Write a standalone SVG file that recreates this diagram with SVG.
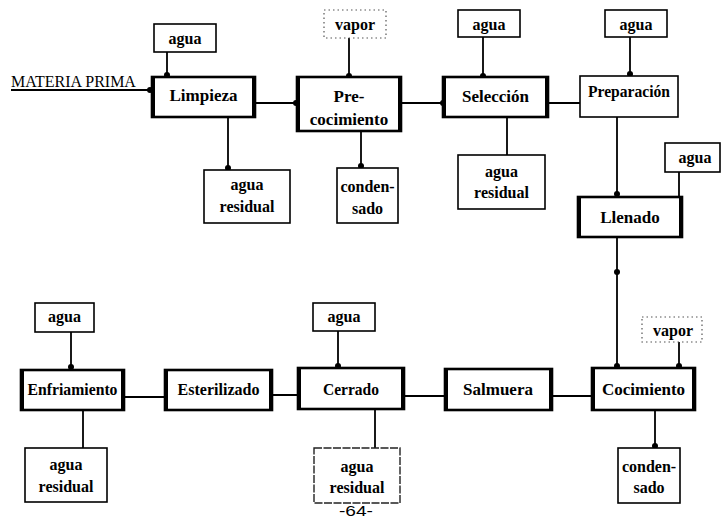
<svg xmlns="http://www.w3.org/2000/svg" width="721" height="519" viewBox="0 0 721 519">
<style>
  text{font-family:"Liberation Serif","Times New Roman",serif;fill:#000;text-anchor:middle}
  .pt{font-size:17px;font-weight:bold}
  .at{font-size:16px;font-weight:bold}
  .aux{fill:#fff;stroke:#000;stroke-width:1.6}
  .dot{fill:#fff;stroke:#555;stroke-width:1.2;stroke-dasharray:1.5 3}
  .dash{fill:#fff;stroke:#222;stroke-width:1.4;stroke-dasharray:8 1.5}
  .proc{fill:#fff;stroke:#000;stroke-width:2.6}
  .side{stroke:#000;stroke-width:4}
  .plain{fill:#fff;stroke:#000;stroke-width:1.6}
  .c{fill:none;stroke:#000;stroke-width:1.8}
  .e{marker-end:url(#d)}
</style>
<defs>
  <marker id="d" viewBox="0 0 6 6" refX="3" refY="3" markerWidth="6" markerHeight="6" markerUnits="userSpaceOnUse">
    <circle cx="3" cy="3" r="3" fill="#000"/>
  </marker>
</defs>
<rect width="721" height="519" fill="#fff"/>

<g id="connectors">
  <path class="c e" d="M11,90 H150"/>
  <path class="c e" d="M167,52 V75"/>
  <path class="c e" d="M228,117 V168"/>
  <path class="c e" d="M255,103 H296"/>
  <path class="c e" d="M349,38 V76"/>
  <path class="c e" d="M361,131 V166"/>
  <path class="c e" d="M401,103 H443"/>
  <path class="c e" d="M483,37 V76"/>
  <path class="c e" d="M507,117 V170"/>
  <path class="c e" d="M548,103 H589"/>
  <path class="c e" d="M630,37 V74"/>
  <path class="c e" d="M617,117 V194"/>
  <path class="c e" d="M679,172 V199"/>
  <path class="c e" d="M617,237 V272"/>
  <path class="c e" d="M617,272 V366"/>
  <path class="c e" d="M679,342 V366"/>
  <path class="c e" d="M655,410 V446"/>
  <path class="c" d="M552,396 H592"/>
  <path class="c" d="M404,396 H445"/>
  <path class="c e" d="M272,395 H313"/>
  <path class="c" d="M124,397 H165"/>
  <path class="c e" d="M338,331 V366"/>
  <path class="c e" d="M375,409 V460"/>
  <path class="c e" d="M71,332 V367"/>
  <path class="c e" d="M83,410 V458"/>
</g>

<g id="materia-prima"><text x="11" y="87" style="text-anchor:start;font-size:16px">MATERIA PRIMA</text></g>

<g id="agua1"><rect class="aux" x="154" y="24" width="62" height="28"/><text class="at" x="185" y="44">agua</text></g>
<g id="limpieza"><rect class="proc" x="152" y="77" width="103" height="40"/><line class="side" x1="153" y1="77" x2="153" y2="117"/><line class="side" x1="254" y1="77" x2="254" y2="117"/><text class="pt" x="203.5" y="101">Limpieza</text></g>
<g id="residual1"><rect class="aux" x="204" y="170" width="86" height="53"/><text class="at" x="247" y="190">agua</text><text class="at" x="247" y="212">residual</text></g>

<g id="vapor1"><rect class="dot" x="324" y="10" width="62" height="28"/><text class="at" x="355" y="30">vapor</text></g>
<g id="precocimiento"><rect class="proc" x="297" y="77" width="104" height="54"/><line class="side" x1="298" y1="77" x2="298" y2="131"/><line class="side" x1="400" y1="77" x2="400" y2="131"/><text class="pt" x="349" y="102">Pre-</text><text class="pt" x="349" y="125">cocimiento</text></g>
<g id="condensado1"><rect class="aux" x="337" y="168" width="61" height="55"/><text class="at" x="367.5" y="192">conden-</text><text class="at" x="367.5" y="214">sado</text></g>

<g id="agua2"><rect class="aux" x="458" y="10" width="62" height="27"/><text class="at" x="489" y="30">agua</text></g>
<g id="seleccion"><rect class="proc" x="443" y="77" width="105" height="40"/><line class="side" x1="444" y1="77" x2="444" y2="117"/><line class="side" x1="547" y1="77" x2="547" y2="117"/><text class="pt" x="495.5" y="102">Selección</text></g>
<g id="residual2"><rect class="aux" x="458" y="155" width="87" height="54"/><text class="at" x="501.5" y="177">agua</text><text class="at" x="501.5" y="198">residual</text></g>

<g id="agua3"><rect class="aux" x="605" y="10" width="62" height="27"/><text class="at" x="636" y="30">agua</text></g>
<g id="preparacion"><rect class="plain" x="580" y="76" width="98" height="41"/><text class="pt" x="629" y="97" textLength="82" lengthAdjust="spacingAndGlyphs">Preparación</text></g>

<g id="agua4"><rect class="aux" x="665" y="143" width="55" height="29"/><text class="at" x="695" y="163">agua</text></g>
<g id="llenado"><rect class="proc" x="578" y="197" width="104" height="40"/><line class="side" x1="579" y1="197" x2="579" y2="237"/><line class="side" x1="681" y1="197" x2="681" y2="237"/><text class="pt" x="630" y="223">Llenado</text></g>

<g id="vapor2"><rect class="dot" x="642" y="317" width="60" height="25"/><text class="at" x="673" y="336">vapor</text></g>
<g id="cocimiento"><rect class="proc" x="592" y="368" width="103" height="42"/><line class="side" x1="593" y1="368" x2="593" y2="410"/><line class="side" x1="694" y1="368" x2="694" y2="410"/><text class="pt" x="643.5" y="395">Cocimiento</text></g>
<g id="condensado2"><rect class="aux" x="618" y="448" width="62" height="55"/><text class="at" x="649" y="472">conden-</text><text class="at" x="649" y="493">sado</text></g>

<g id="salmuera"><rect class="proc" x="445" y="369" width="107" height="41"/><line class="side" x1="446" y1="369" x2="446" y2="410"/><line class="side" x1="551" y1="369" x2="551" y2="410"/><text class="pt" x="498" y="395">Salmuera</text></g>

<g id="agua5"><rect class="aux" x="313" y="303" width="62" height="28"/><text class="at" x="344" y="322">agua</text></g>
<g id="cerrado"><rect class="proc" x="298" y="368" width="106" height="41"/><line class="side" x1="299" y1="368" x2="299" y2="409"/><line class="side" x1="403" y1="368" x2="403" y2="409"/><text class="pt" x="351" y="395" textLength="56" lengthAdjust="spacingAndGlyphs">Cerrado</text></g>
<g id="residual3"><rect class="dash" x="314" y="448" width="86" height="55"/><text class="at" x="357" y="472">agua</text><text class="at" x="357" y="493">residual</text></g>

<g id="esterilizado"><rect class="proc" x="165" y="370" width="107" height="40"/><line class="side" x1="166" y1="370" x2="166" y2="410"/><line class="side" x1="271" y1="370" x2="271" y2="410"/><text class="pt" x="218.5" y="395" textLength="82" lengthAdjust="spacingAndGlyphs">Esterilizado</text></g>

<g id="agua6"><rect class="aux" x="35" y="303" width="59" height="29"/><text class="at" x="64.5" y="322">agua</text></g>
<g id="enfriamiento"><rect class="proc" x="21" y="370" width="103" height="40"/><line class="side" x1="22" y1="370" x2="22" y2="410"/><line class="side" x1="123" y1="370" x2="123" y2="410"/><text class="pt" x="72.5" y="395" textLength="90" lengthAdjust="spacingAndGlyphs">Enfriamiento</text></g>
<g id="residual4"><rect class="aux" x="25" y="448" width="82" height="54"/><text class="at" x="66" y="470">agua</text><text class="at" x="66" y="492">residual</text></g>

<g id="page"><text x="356" y="516" style="font-family:'Liberation Sans',Arial,sans-serif;font-size:15px" textLength="34" lengthAdjust="spacingAndGlyphs">-64-</text></g>
</svg>
